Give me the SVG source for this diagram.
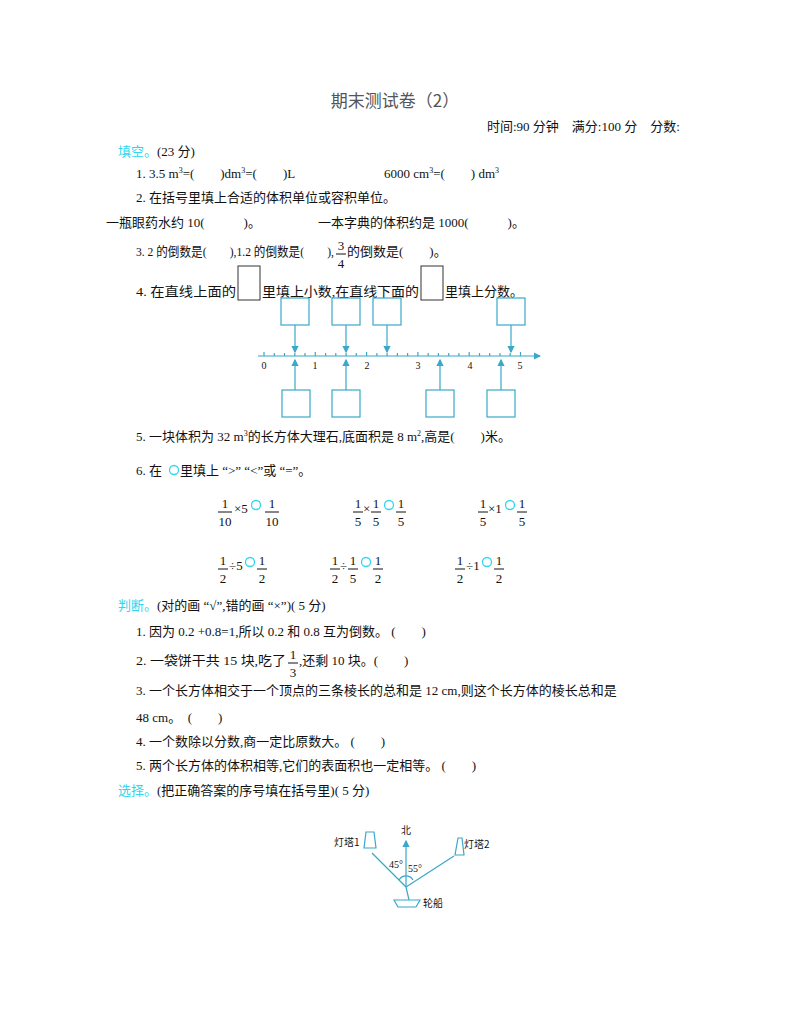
<svg xmlns="http://www.w3.org/2000/svg" width="800" height="1009" viewBox="0 0 800 1009">
<style>
text{font-family:"Liberation Serif","Noto Sans CJK SC",serif;font-size:13px;fill:#111}
.c{font-family:"Noto Sans CJK SC",sans-serif}
.h{fill:#2fd6ef;font-family:"Noto Sans CJK SC",sans-serif}
.f{text-anchor:middle}
.b{fill:none;stroke:#3aa8c8;stroke-width:1.2}
.k{fill:none;stroke:#333;stroke-width:1}
.o{fill:none;stroke:#2fd6ef;stroke-width:1.3}
</style>
<defs>
<marker id="a" markerWidth="6" markerHeight="6" refX="5" refY="3" orient="auto"><path d="M0,0L6,3L0,6z" fill="#3aa8c8"/></marker>
</defs>
<rect width="800" height="1009" fill="#fff"/>
<text x="395" y="107" class="c f" style="font-size:17px;fill:#555">期末测试卷（2）</text>
<text x="487" y="131">时间:90 分钟　满分:100 分　分数:</text>
<text x="118" y="156"><tspan class="h">填空。</tspan>(23 分)</text>
<text x="136" y="178">1.  3.5  m<tspan dy="-5" style="font-size:8px">3</tspan><tspan dy="5">=(　　)dm</tspan><tspan dy="-5" style="font-size:8px">3</tspan><tspan dy="5">=(　　)L</tspan></text>
<text x="384" y="178">6000  cm<tspan dy="-5" style="font-size:8px">3</tspan><tspan dy="5">=(　　)  dm</tspan><tspan dy="-5" style="font-size:8px">3</tspan></text>
<text x="136" y="202">2.  在括号里填上合适的体积单位或容积单位。</text>
<text x="106" y="227">一瓶眼药水约 10(　　　)。</text>
<text x="318" y="227">一本字典的体积约是 1000(　　　)。</text>
<text x="136" y="256" textLength="198" lengthAdjust="spacingAndGlyphs">3.  2 的倒数是(　　),1.2 的倒数是(　　),</text>
<text x="341" y="250" class="f">3</text><line x1="336" y1="254" x2="346" y2="254" stroke="#111"/><text x="341" y="268" class="f">4</text>
<text x="347" y="256">的倒数是(　　)。</text>
<text x="136" y="296" textLength="100" lengthAdjust="spacingAndGlyphs">4.  在直线上面的</text>
<rect x="238" y="266" width="22" height="34" class="k"/>
<text x="262" y="296" textLength="157" lengthAdjust="spacingAndGlyphs">里填上小数,在直线下面的</text>
<rect x="421" y="266" width="22" height="34" class="k"/>
<text x="445" y="296">里填上分数。</text>
<g id="numberline">
<line x1="258" y1="356" x2="540" y2="356" class="b" marker-end="url(#a)"/>
<path class="b" d="M264,352v4M274.3,353v3M284.5,353v3M294.8,353v3M305,353v3M315.3,352v4M325.6,353v3M335.8,353v3M346.1,353v3M356.3,353v3M366.6,352v4M376.9,353v3M387.1,353v3M397.4,353v3M407.6,353v3M417.9,352v4M428.2,353v3M438.4,353v3M448.7,353v3M458.9,353v3M469.2,352v4M479.5,353v3M489.7,353v3M500,353v3M510.2,353v3M520.5,352v4"/>
<text x="264" y="369" class="f" style="font-size:10px">0</text>
<text x="315" y="369" class="f" style="font-size:10px">1</text>
<text x="367" y="369" class="f" style="font-size:10px">2</text>
<text x="418" y="369" class="f" style="font-size:10px">3</text>
<text x="470" y="369" class="f" style="font-size:10px">4</text>
<text x="520" y="369" class="f" style="font-size:10px">5</text>
</g>
<g id="boxes">
<rect x="281" y="298" width="28" height="27" class="b"/>
<rect x="332" y="298" width="28" height="27" class="b"/>
<rect x="373" y="298" width="28" height="27" class="b"/>
<rect x="497" y="298" width="28" height="27" class="b"/>
<rect x="282" y="390" width="28" height="27" class="b"/>
<rect x="332" y="390" width="28" height="27" class="b"/>
<rect x="426" y="390" width="28" height="27" class="b"/>
<rect x="487" y="390" width="28" height="27" class="b"/>
</g>
<g id="connectors">
<line x1="295" y1="325" x2="295" y2="352" class="b" marker-end="url(#a)"/>
<line x1="346" y1="325" x2="346" y2="352" class="b" marker-end="url(#a)"/>
<line x1="387" y1="325" x2="387" y2="352" class="b" marker-end="url(#a)"/>
<line x1="511" y1="325" x2="511" y2="352" class="b" marker-end="url(#a)"/>
<line x1="295" y1="390" x2="295" y2="360" class="b" marker-end="url(#a)"/>
<line x1="346" y1="390" x2="346" y2="360" class="b" marker-end="url(#a)"/>
<line x1="440" y1="390" x2="440" y2="360" class="b" marker-end="url(#a)"/>
<line x1="501" y1="390" x2="501" y2="360" class="b" marker-end="url(#a)"/>
</g>
<text x="136" y="441">5.  一块体积为 32  m<tspan dy="-5" style="font-size:8px">3</tspan><tspan dy="5">的长方体大理石,底面积是 8  m</tspan><tspan dy="-5" style="font-size:8px">2</tspan><tspan dy="5">,高是(　　)米。</tspan></text>
<text x="136" y="475">6.  在</text>
<circle cx="174" cy="470" r="4.5" class="o"/>
<text x="180" y="475">里填上 “&gt;” “&lt;”或 “=”。</text>
<g id="fr1">
<text x="225" y="508" class="f">1</text><line x1="218" y1="512" x2="232" y2="512" stroke="#111"/><text x="225" y="526" class="f">10</text>
<text x="234" y="513">×5</text><circle cx="256" cy="505" r="4.5" class="o"/>
<text x="272" y="508" class="f">1</text><line x1="265" y1="512" x2="279" y2="512" stroke="#111"/><text x="272" y="526" class="f">10</text>
<text x="358" y="508" class="f">1</text><line x1="353" y1="512" x2="363" y2="512" stroke="#111"/><text x="358" y="526" class="f">5</text>
<text x="363" y="513">×</text>
<text x="376" y="508" class="f">1</text><line x1="371" y1="512" x2="381" y2="512" stroke="#111"/><text x="376" y="526" class="f">5</text>
<circle cx="389" cy="505" r="4.5" class="o"/>
<text x="401" y="508" class="f">1</text><line x1="396" y1="512" x2="406" y2="512" stroke="#111"/><text x="401" y="526" class="f">5</text>
<text x="483" y="508" class="f">1</text><line x1="478" y1="512" x2="488" y2="512" stroke="#111"/><text x="483" y="526" class="f">5</text>
<text x="488" y="513">×1</text><circle cx="510" cy="505" r="4.5" class="o"/>
<text x="522" y="508" class="f">1</text><line x1="517" y1="512" x2="527" y2="512" stroke="#111"/><text x="522" y="526" class="f">5</text>
</g>
<g id="fr2">
<text x="223" y="565" class="f">1</text><line x1="218" y1="569" x2="228" y2="569" stroke="#111"/><text x="223" y="583" class="f">2</text>
<text x="229" y="570">÷5</text><circle cx="250" cy="562" r="4.5" class="o"/>
<text x="262" y="565" class="f">1</text><line x1="257" y1="569" x2="267" y2="569" stroke="#111"/><text x="262" y="583" class="f">2</text>
<text x="335" y="565" class="f">1</text><line x1="330" y1="569" x2="340" y2="569" stroke="#111"/><text x="335" y="583" class="f">2</text>
<text x="340" y="570">÷</text>
<text x="353" y="565" class="f">1</text><line x1="348" y1="569" x2="358" y2="569" stroke="#111"/><text x="353" y="583" class="f">5</text>
<circle cx="366" cy="562" r="4.5" class="o"/>
<text x="378" y="565" class="f">1</text><line x1="373" y1="569" x2="383" y2="569" stroke="#111"/><text x="378" y="583" class="f">2</text>
<text x="460" y="565" class="f">1</text><line x1="455" y1="569" x2="465" y2="569" stroke="#111"/><text x="460" y="583" class="f">2</text>
<text x="466" y="570">÷1</text><circle cx="487" cy="562" r="4.5" class="o"/>
<text x="499" y="565" class="f">1</text><line x1="494" y1="569" x2="504" y2="569" stroke="#111"/><text x="499" y="583" class="f">2</text>
</g>
<text x="118" y="610"><tspan class="h">判断。</tspan>(对的画 “√”,错的画 “×”)( 5 分)</text>
<text x="136" y="636">1.  因为 0.2 +0.8=1,所以 0.2  和 0.8  互为倒数。  (　　)</text>
<text x="136" y="665" textLength="150" lengthAdjust="spacingAndGlyphs">2.  一袋饼干共 15 块,吃了</text>
<text x="293" y="659" class="f">1</text><line x1="288" y1="663" x2="298" y2="663" stroke="#111"/><text x="293" y="677" class="f">3</text>
<text x="299" y="665">,还剩 10 块。(　　)</text>
<text x="136" y="695">3.  一个长方体相交于一个顶点的三条棱长的总和是 12  cm,则这个长方体的棱长总和是</text>
<text x="136" y="722">48  cm。　(　　)</text>
<text x="136" y="746">4.  一个数除以分数,商一定比原数大。  (　　)</text>
<text x="136" y="770">5.  两个长方体的体积相等,它们的表面积也一定相等。  (　　)</text>
<text x="118" y="795"><tspan class="h">选择。</tspan>(把正确答案的序号填在括号里)( 5 分)</text>
<g id="figure">
<text x="334" y="846" class="c" style="font-size:10px">灯塔1</text>
<path d="M366,832h8l2,16h-12z" class="b"/>
<text x="406" y="834" class="c f" style="font-size:10px">北</text>
<line x1="406" y1="887" x2="406" y2="841" class="b" marker-end="url(#a)"/>
<line x1="406" y1="887" x2="372" y2="853" class="b"/>
<line x1="406" y1="887" x2="454" y2="856" class="b"/>
<path d="M458,838h4l2,17h-9z" class="b"/>
<text x="464" y="848" class="c" style="font-size:10px">灯塔2</text>
<text x="389" y="868" style="font-size:10px">45°</text>
<text x="408" y="872" style="font-size:10px">55°</text>
<path d="M399,880a8,8 0 0 1 14,0" class="b"/>
<line x1="406" y1="887" x2="409" y2="900" class="b"/>
<path d="M394,900h26l-4,7h-18z" class="b"/>
<text x="423" y="907" class="c" style="font-size:10px">轮船</text>
</g>
</svg>
